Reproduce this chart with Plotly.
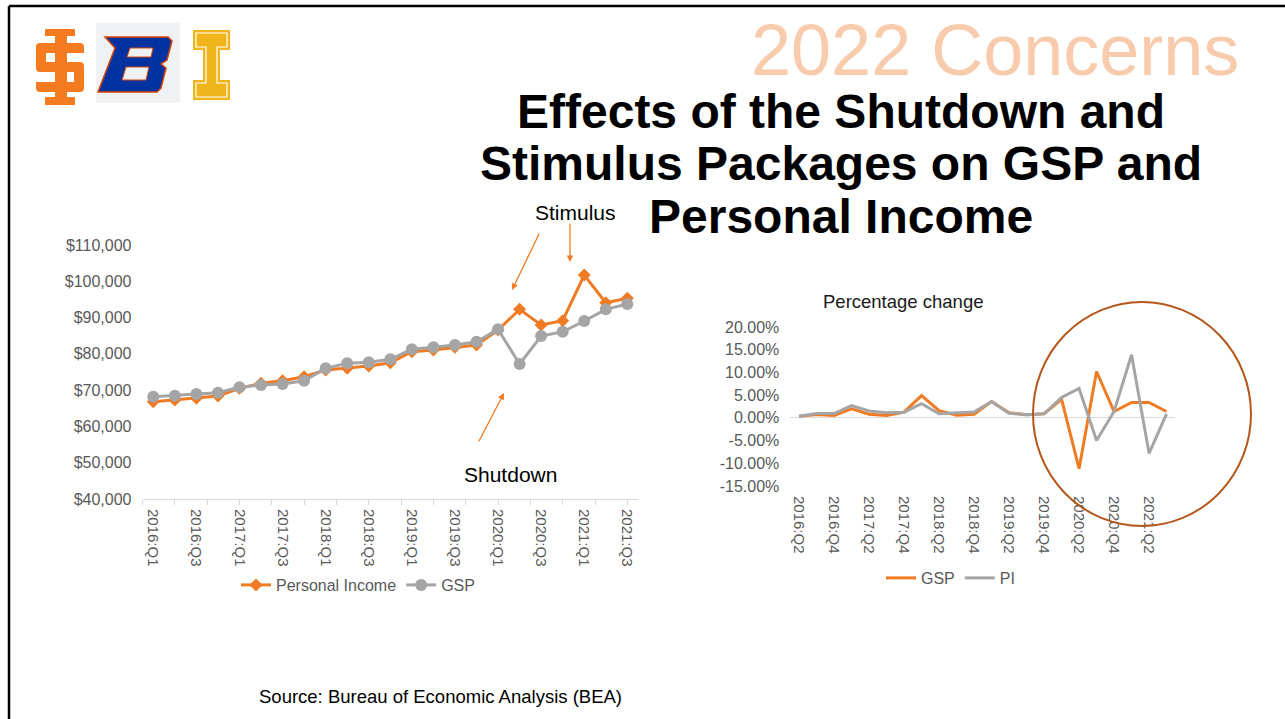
import plotly.graph_objects as go

# ---------------- data ----------------
QUARTERS_LEVEL = ["2016:Q1", "2016:Q2", "2016:Q3", "2016:Q4", "2017:Q1", "2017:Q2", "2017:Q3", "2017:Q4",
                  "2018:Q1", "2018:Q2", "2018:Q3", "2018:Q4", "2019:Q1", "2019:Q2", "2019:Q3", "2019:Q4",
                  "2020:Q1", "2020:Q2", "2020:Q3", "2020:Q4", "2021:Q1", "2021:Q2", "2021:Q3"]
PERSONAL_INCOME = [66810, 67280, 67750, 68380, 70500, 71880, 72600, 73700, 75550, 76010, 76650, 77560,
                   80590, 81060, 81800, 82440, 86570, 92270, 87950, 89130, 101720, 94090, 95300]
GSP_LEVEL = [68190, 68470, 68930, 69290, 70780, 71410, 71690, 72600, 76010, 77390, 77670, 78490,
             81250, 81800, 82440, 83350, 86760, 77200, 84920, 86100, 89050, 92270, 93730]

QUARTERS_PCT = QUARTERS_LEVEL[1:]
GSP_PCT = [0.35, 0.73, 0.5, 2.0, 0.8, 0.5, 1.25, 4.9, 1.6, 0.6, 0.8, 3.6,
           1.1, 0.7, 0.9, 4.1, -11.2, 10.2, 1.4, 3.4, 3.4, 1.4]
PI_PCT = [0.35, 0.95, 0.95, 2.7, 1.5, 1.1, 1.25, 3.1, 0.9, 1.1, 1.3, 3.6,
          1.0, 0.7, 0.9, 4.5, 6.5, -5.0, 1.4, 13.9, -7.8, 0.9]

LEVEL_TICKS = [40000, 50000, 60000, 70000, 80000, 90000, 100000, 110000]
PCT_TICKS = [-15, -10, -5, 0, 5, 10, 15, 20]

# ---------------- style ----------------
W, H = 1285, 719
FONT = "Liberation Sans, Arial, sans-serif"
ORANGE = "#F07B22"
GRAY = "#A5A5A5"
TICK = "#595959"
AXIS = "#D9D9D9"


def px(x):
    return x / W


def py(y):
    return 1 - y / H


def path(cmds):
    out = []
    for c in cmds:
        op = c[0]
        nums = c[1:]
        pts = []
        for i in range(0, len(nums), 2):
            pts.append(f"{px(nums[i]):.5f},{py(nums[i + 1]):.5f}")
        out.append(op + " ".join(pts))
    return " ".join(out)


fig = go.Figure()

xi_level = list(range(len(QUARTERS_LEVEL)))
xi_pct = list(range(len(QUARTERS_PCT)))

fig.add_trace(go.Scatter(x=xi_level, y=PERSONAL_INCOME, name="Personal Income", mode="lines+markers",
                         line=dict(color=ORANGE, width=3),
                         marker=dict(symbol="diamond", size=10, color=ORANGE),
                         xaxis="x", yaxis="y", legend="legend"))
fig.add_trace(go.Scatter(x=xi_level, y=GSP_LEVEL, name="GSP", mode="lines+markers",
                         line=dict(color=GRAY, width=3),
                         marker=dict(symbol="circle", size=12, color=GRAY),
                         xaxis="x", yaxis="y", legend="legend"))
fig.add_trace(go.Scatter(x=xi_pct, y=GSP_PCT, name="GSP", mode="lines",
                         line=dict(color=ORANGE, width=3),
                         xaxis="x2", yaxis="y2", legend="legend2"))
fig.add_trace(go.Scatter(x=xi_pct, y=PI_PCT, name="PI", mode="lines",
                         line=dict(color=GRAY, width=3),
                         xaxis="x2", yaxis="y2", legend="legend2"))

shapes = []
# slide frame
shapes.append(dict(type="line", xref="paper", yref="paper", x0=px(9), x1=px(W + 5), y0=py(6), y1=py(6),
                   line=dict(color="black", width=2.5)))
shapes.append(dict(type="line", xref="paper", yref="paper", x0=px(9), x1=px(9), y0=py(6), y1=py(H + 5),
                   line=dict(color="black", width=2.5)))

# --- ISU logo ---
ISU = "#F47B20"
s_path = path([("M", 84, 47), ("Q", 84, 43, 80, 43), ("L", 40, 43), ("Q", 36, 43, 36, 47), ("L", 36, 68),
               ("Q", 36, 72, 40, 72), ("L", 74, 72), ("L", 74, 82), ("L", 36, 82), ("L", 36, 88),
               ("Q", 36, 92, 40, 92), ("L", 80, 92), ("Q", 84, 92, 84, 88), ("L", 84, 66),
               ("Q", 84, 62, 80, 62), ("L", 46, 62), ("L", 46, 53), ("L", 84, 53), ("Z",)])
shapes.append(dict(type="path", xref="paper", yref="paper", path=s_path, fillcolor=ISU, line=dict(width=0)))
for (x0, y0, x1, y1) in [(45, 29, 75, 36), (55, 35, 67, 99), (45, 97, 75, 105)]:
    shapes.append(dict(type="rect", xref="paper", yref="paper", x0=px(x0), x1=px(x1), y0=py(y1), y1=py(y0),
                       fillcolor=ISU, line=dict(width=0)))

# --- Boise State logo ---
shapes.append(dict(type="rect", xref="paper", yref="paper", x0=px(96), x1=px(180), y0=py(103), y1=py(23),
                   fillcolor="#F1F2F4", line=dict(width=0)))
b_path = path([("M", 105, 37), ("L", 168, 37), ("L", 172, 41), ("L", 167, 60), ("L", 161, 64), ("L", 166, 68),
               ("L", 161, 88), ("L", 157, 92), ("L", 98, 92), ("L", 115, 48), ("Z",)])
shapes.append(dict(type="path", xref="paper", yref="paper", path=b_path, fillcolor="#0033A0",
                   line=dict(color="#D64309", width=1.5)))
for hole in ([("M", 130, 48), ("L", 153, 48), ("L", 151, 57), ("L", 127, 57), ("Z",)],
             [("M", 126, 67), ("L", 149, 67), ("L", 146, 80), ("L", 122, 80), ("Z",)]):
    shapes.append(dict(type="path", xref="paper", yref="paper", path=path(hole), fillcolor="#F1F2F4",
                       line=dict(color="#D64309", width=1)))

# --- Idaho logo ---
GOLD = "#F1B51C"
i_outer = path([("M", 193, 30), ("L", 230, 30), ("L", 230, 50), ("L", 220, 50), ("L", 220, 80), ("L", 230, 80),
                ("L", 230, 100), ("L", 193, 100), ("L", 193, 80), ("L", 203, 80), ("L", 203, 50),
                ("L", 193, 50), ("Z",)])
i_inner = path([("M", 196, 33), ("L", 227, 33), ("L", 227, 47), ("L", 217, 47), ("L", 217, 83), ("L", 227, 83),
                ("L", 227, 97), ("L", 196, 97), ("L", 196, 83), ("L", 206, 83), ("L", 206, 47),
                ("L", 196, 47), ("Z",)])
shapes.append(dict(type="path", xref="paper", yref="paper", path=i_outer, fillcolor=GOLD, line=dict(width=0)))
shapes.append(dict(type="path", xref="paper", yref="paper", path=i_inner, fillcolor=GOLD,
                   line=dict(color="white", width=1.2)))

# highlight circle
shapes.append(dict(type="circle", xref="paper", yref="paper", x0=px(1033), x1=px(1251), y0=py(526), y1=py(302),
                   line=dict(color="#B5561A", width=2)))

annotations = []


def txt(text, x, y, size, color="black", bold=False):
    t = f"<b>{text}</b>" if bold else text
    annotations.append(dict(text=t, x=px(x), y=py(y), xref="paper", yref="paper", showarrow=False,
                            xanchor="center", yanchor="middle",
                            font=dict(family=FONT, size=size, color=color)))


txt("2022 Concerns", 995, 50, 72, "#F8CBAD")
txt("Effects of the Shutdown and", 841, 111, 48, bold=True)
txt("Stimulus Packages on GSP and", 841, 163, 48, bold=True)
txt("Personal Income", 841, 216, 48, bold=True)
txt("Stimulus", 575, 213, 21)
txt("Shutdown", 511, 474, 21)
txt("Percentage change", 903, 302, 18.5, "#1a1a1a")
txt("Source: Bureau of Economic Analysis (BEA)", 440, 696, 18.5)


def arrow(tip, tail):
    annotations.append(dict(text="", x=px(tip[0]), y=py(tip[1]), xref="paper", yref="paper",
                            ax=tail[0] - tip[0], ay=tail[1] - tip[1], showarrow=True,
                            arrowhead=2, arrowsize=1, arrowwidth=1.3, arrowcolor=ORANGE, standoff=0))


arrow((512, 290), (540, 232))
arrow((570, 262), (570, 222))
arrow((504, 393), (478, 443))

fig.update_layout(
    template="none",
    width=W, height=H, autosize=False,
    margin=dict(l=0, r=0, t=0, b=0, pad=0, autoexpand=False),
    paper_bgcolor="white", plot_bgcolor="white",
    font=dict(family=FONT),
    shapes=shapes, annotations=annotations,
    xaxis=dict(domain=[px(142.5), px(638.1)], range=[-0.5, len(QUARTERS_LEVEL) - 0.5], anchor="y",
               tickmode="array", tickvals=xi_level[::2], ticktext=QUARTERS_LEVEL[::2], tickangle=90,
               ticks="", showline=True, linecolor=AXIS, linewidth=1, showgrid=False, zeroline=False,
               tickfont=dict(size=15, color=TICK), ticklabelstandoff=6, automargin=False,
               minor=dict(ticks="outside", ticklen=5, tickcolor=AXIS, tickwidth=1, tick0=-0.5, dtick=1.5,
                          showgrid=False)),
    yaxis=dict(domain=[py(499), py(245)], range=[LEVEL_TICKS[0], LEVEL_TICKS[-1]], anchor="x",
               tickmode="array", tickvals=LEVEL_TICKS, tickformat="$,.0f",
               showline=False, showgrid=False, zeroline=False, ticks="", automargin=False,
               tickfont=dict(size=16, color=TICK), ticklabelstandoff=10),
    xaxis2=dict(domain=[px(790.3), px(1175.3)], range=[-0.5, len(QUARTERS_PCT) - 0.5], anchor="y2",
                tickmode="array", tickvals=xi_pct[::2], ticktext=QUARTERS_PCT[::2], tickangle=90,
                ticks="", showline=False, showgrid=False, zeroline=False, automargin=False,
                tickfont=dict(size=15, color=TICK), ticklabelstandoff=9),
    yaxis2=dict(domain=[py(486), py(327)], range=[PCT_TICKS[0], PCT_TICKS[-1]], anchor="x2",
                tickmode="array", tickvals=PCT_TICKS, ticktext=[f"{v:.2f}%" for v in PCT_TICKS],
                showline=False, showgrid=False, zeroline=True, zerolinecolor=AXIS, zerolinewidth=1,
                ticks="", tickfont=dict(size=16, color=TICK), ticklabelstandoff=10, automargin=False),
    legend=dict(orientation="h", x=px(236), y=py(585), xanchor="left", yanchor="middle",
                font=dict(size=16, color=TICK), bgcolor="rgba(0,0,0,0)", traceorder="normal"),
    legend2=dict(orientation="h", x=px(881), y=py(578), xanchor="left", yanchor="middle",
                 font=dict(size=16, color=TICK), bgcolor="rgba(0,0,0,0)", traceorder="normal"),
)

fig.write_html("out.html", config={"displayModeBar": False},
               post_script="document.body.style.margin='0';document.body.style.overflow='hidden';")
